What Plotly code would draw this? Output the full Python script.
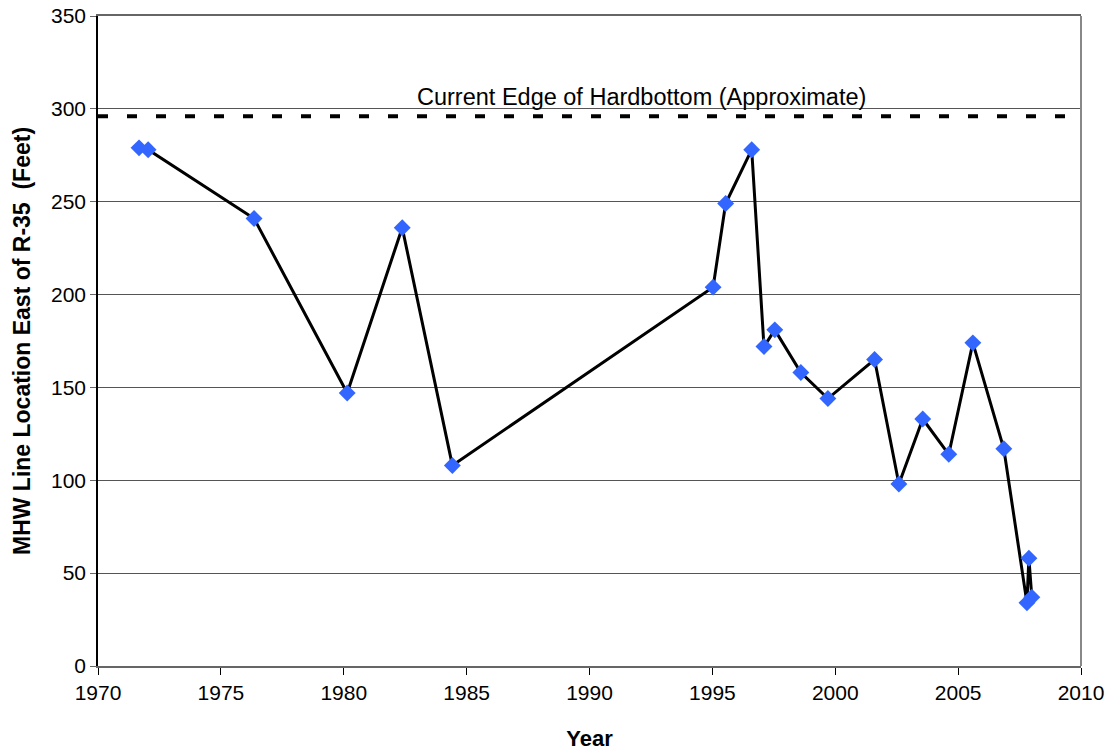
import plotly.graph_objects as go

years = [1971.67, 1972.04, 1976.35, 1980.14, 1982.38, 1984.42, 1995.03, 1995.54,
         1996.6, 1997.1, 1997.54, 1998.6, 1999.7, 2001.6, 2002.59, 2003.56,
         2004.62, 2005.6, 2006.86, 2007.8, 2007.88, 2008.0]
mhw_feet = [279, 278, 241, 147, 236, 108, 204, 249,
            278, 172, 181, 158, 144, 165, 98, 133,
            114, 174, 117, 34, 58, 37]
edge_x = [1970, 2010]
edge_y = [296, 296]
edge_label = "Current Edge of Hardbottom (Approximate)"

fig = go.Figure()
fig.add_trace(go.Scatter(
    x=edge_x, y=edge_y, mode="lines",
    line=dict(color="black", width=4, dash="10px,19px"),
    hoverinfo="skip", showlegend=False, cliponaxis=False))
fig.add_trace(go.Scatter(
    x=years, y=mhw_feet, mode="lines+markers",
    line=dict(color="black", width=3),
    marker=dict(symbol="diamond", size=13, color="#3366FF"),
    showlegend=False))

fig.add_annotation(x=1992.1, y=296, text=edge_label, showarrow=False,
                   yshift=19, font=dict(family="Liberation Sans, Arial", size=23.5, color="black"))

fig.add_shape(type="line", xref="paper", yref="paper", x0=1, x1=1, y0=0, y1=1,
              line=dict(color="#888888", width=2))

fig.update_layout(
    width=1111, height=751,
    margin=dict(l=98, r=30, t=16, b=85),
    plot_bgcolor="white", paper_bgcolor="white",
    font=dict(family="Liberation Sans, Arial", size=21, color="black"),
)
fig.update_xaxes(
    range=[1970, 2010], tickmode="linear", tick0=1970, dtick=5,
    showgrid=False, zeroline=False, automargin=False, ticklabeloverflow="allow",
    showline=True, linecolor="#666666", linewidth=2, mirror=True,
    ticks="outside", ticklen=7, tickcolor="black",
    tickfont=dict(size=21),
    title=dict(text="<b>Year</b>", font=dict(size=22), standoff=29),
)
fig.update_yaxes(
    range=[0, 350], tickmode="linear", tick0=0, dtick=50,
    showgrid=True, gridcolor="#555555", gridwidth=1, zeroline=False, automargin=False,
    ticklabeloverflow="allow",
    showline=True, linecolor="black", linewidth=1.5,
    ticks="outside", ticklen=6, tickcolor="#666666",
    tickfont=dict(size=21),
    title=dict(text="<b>MHW Line Location East of R-35  (Feet)</b>", font=dict(size=23), standoff=14),
)

fig.write_html("out.html", config={"displayModeBar": False},
               post_script="document.body.style.margin='0';")
